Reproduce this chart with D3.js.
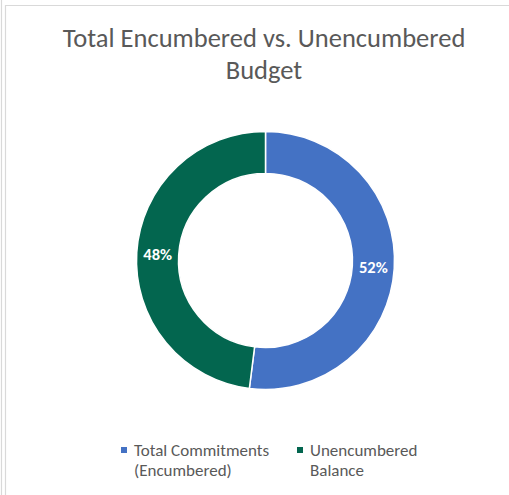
<!DOCTYPE html>
<html>
<head>
<meta charset="utf-8">
<script src="https://cdn.jsdelivr.net/npm/d3@7/dist/d3.min.js"></script>
<style>
  html, body { margin: 0; padding: 0; background: #fff; }
  svg { display: block; }
  text { font-family: Carlito, "Open Sans", "Noto Sans", sans-serif; }
</style>
</head>
<body>
<svg id="chart" width="509" height="495"></svg>
<script>
// Budget split
const categories = ["Total Commitments (Encumbered)", "Unencumbered Balance"];
const values = [52, 48];
const legendLines = [["Total Commitments", "(Encumbered)"], ["Unencumbered", "Balance"]];
const colors = ["#4472C4", "#03664F"];
const titleLines = ["Total Encumbered vs. Unencumbered", "Budget"];

const svg = d3.select("#chart");

// frame lines
svg.append("line").attr("x1", 1.5).attr("x2", 1.5).attr("y1", 0).attr("y2", 495)
  .attr("stroke", "#d9d9d9").attr("stroke-width", 1.2);
svg.append("line").attr("x1", 5.5).attr("x2", 5.5).attr("y1", 5).attr("y2", 495)
  .attr("stroke", "#d9d9d9").attr("stroke-width", 1.2);
svg.append("line").attr("x1", 5).attr("x2", 509).attr("y1", 5.5).attr("y2", 5.5)
  .attr("stroke", "#d9d9d9").attr("stroke-width", 1.2);

// title, sized so line one spans its set width
const title = svg.append("g");
const t1 = title.append("text").attr("x", 264).attr("y", 47)
  .attr("text-anchor", "middle").attr("fill", "#595959").attr("font-size", 20)
  .text(titleLines[0]);
const w = t1.node().getComputedTextLength();
const fs = 20 * 403 / w;
t1.attr("font-size", fs);
title.append("text").attr("x", 264).attr("y", 79)
  .attr("text-anchor", "middle").attr("fill", "#595959").attr("font-size", fs)
  .text(titleLines[1]);

// donut
const cx = 265.5, cy = 260.5, outerR = 129, innerR = 87;
const pie = d3.pie().sort(null).value(d => d)(values);
const arc = d3.arc().innerRadius(innerR).outerRadius(outerR);
const labelArc = d3.arc().innerRadius((innerR + outerR) / 2).outerRadius((innerR + outerR) / 2);

const g = svg.append("g").attr("transform", `translate(${cx},${cy})`);
g.selectAll("path").data(pie).join("path")
  .attr("d", arc)
  .attr("fill", (d, i) => colors[i])
  .attr("stroke", "#fff").attr("stroke-width", 1.5);

g.selectAll("text.lbl").data(pie).join("text")
  .attr("class", "lbl")
  .attr("transform", d => `translate(${labelArc.centroid(d)})`)
  .attr("text-anchor", "middle").attr("dy", "0.36em")
  .attr("fill", "#fff").attr("font-weight", "bold").attr("font-size", 16.5)
  .text(d => d.data + "%");

// legend
const legendX = [121, 297];
const leg = svg.append("g");
categories.forEach((c, i) => {
  const lg = leg.append("g").attr("transform", `translate(${legendX[i]},0)`);
  lg.append("rect").attr("x", 0).attr("y", 447).attr("width", 6).attr("height", 6)
    .attr("fill", colors[i]);
  legendLines[i].forEach((ln, j) => {
    lg.append("text").attr("x", 13).attr("y", 456 + j * 19.5)
      .attr("fill", "#595959").attr("font-size", 17).text(ln);
  });
});
</script>
</body>
</html>
